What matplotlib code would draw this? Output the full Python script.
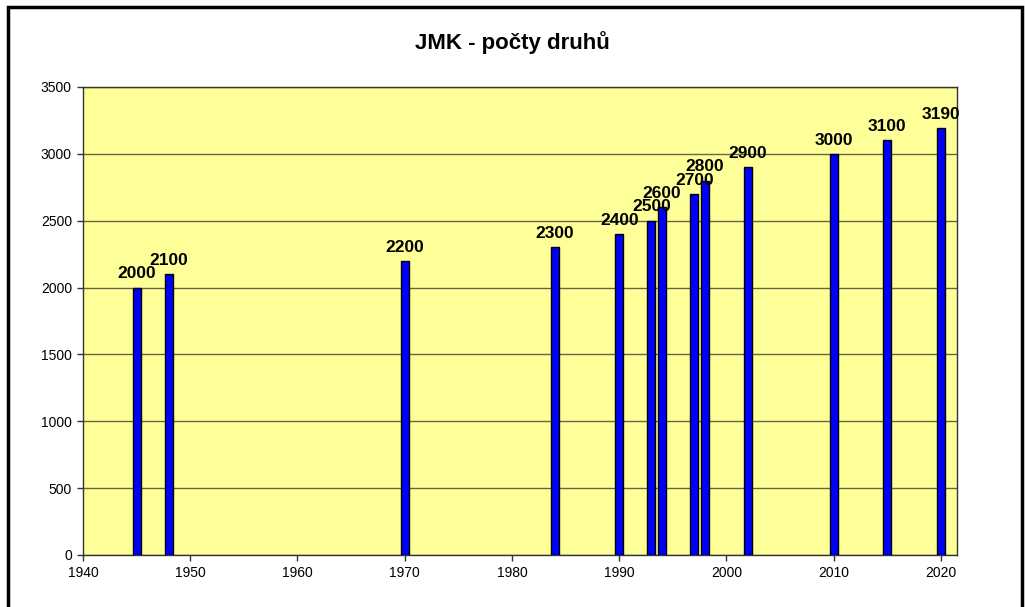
import matplotlib.pyplot as plt
from matplotlib.patches import Rectangle

plt.rcParams['font.family'] = ['Liberation Sans', 'DejaVu Sans']

years = [1945, 1948, 1970, 1984, 1990, 1993, 1994, 1997, 1998, 2002, 2010, 2015, 2020]
counts = [2000, 2100, 2200, 2300, 2400, 2500, 2600, 2700, 2800, 2900, 3000, 3100, 3190]
title = "JMK - počty druhů"

fig = plt.figure(figsize=(10.25, 6.07), dpi=100)
ax = fig.add_axes([83/1025, 1 - 555/607, (957 - 83)/1025, (555 - 87)/607])
ax.set_facecolor('#FFFF99')

# frame round the whole chart (open at the bottom, as in the source)
fig.patches.append(Rectangle((8/1025, -0.05), (1022 - 8)/1025, 1.05 - 7/607,
                             transform=fig.transFigure, fill=False,
                             edgecolor='black', linewidth=2.5))

ax.bar(years, counts, width=0.75, color='#0000FF', edgecolor='black', linewidth=1, zorder=3)
for x, y in zip(years, counts):
    ax.annotate(str(y), (x, y), xytext=(0, 4.5), textcoords='offset points',
                ha='center', va='bottom', fontsize=12.5, fontweight='bold', zorder=4)

ax.set_xlim(1940, 2021.5)
ax.set_ylim(0, 3500)
ax.set_xticks(range(1940, 2021, 10))
ax.set_yticks(range(0, 3501, 500))
ax.yaxis.grid(True, color='#666644', linewidth=1, zorder=1)
ax.tick_params(labelsize=10, length=4, width=1, color='#333333', pad=4)
for s in ax.spines.values():
    s.set_color('#333333')
    s.set_linewidth(1)

fig.text(0.5, 1 - 43/607, title, ha='center', va='center', fontsize=16, fontweight='bold')

fig.savefig('out.png', dpi=100)
